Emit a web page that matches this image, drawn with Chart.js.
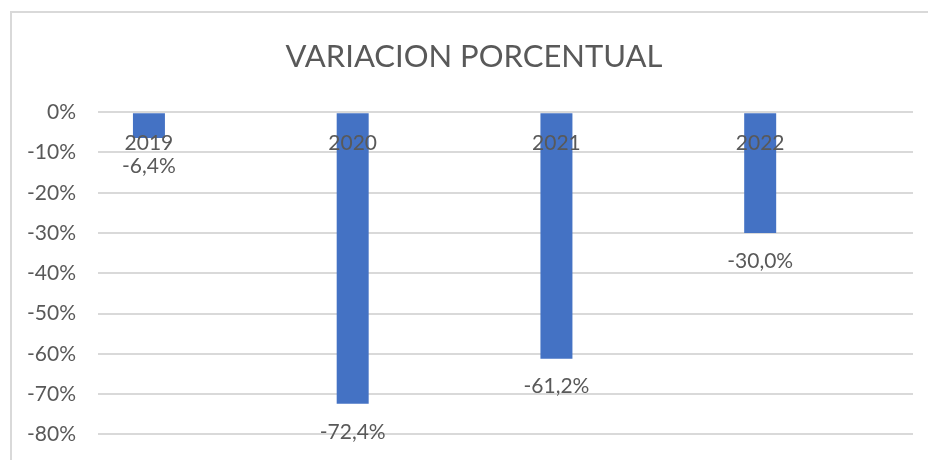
<!DOCTYPE html>
<html>
<head>
<meta charset="utf-8">
<script src="https://cdn.jsdelivr.net/npm/chart.js@4.4.1/dist/chart.umd.min.js"></script>
<style>
    html, body { margin: 0; padding: 0; background: #ffffff; }
    #wrap { position: relative; width: 928px; height: 460px; overflow: hidden; }
    #frame { position: absolute; left: 10px; top: 11px; width: 940px; height: 470px;
             border-left: 2px solid #d9d9d9; border-top: 2px solid #d9d9d9; }
    #chart { position: absolute; left: 0; top: 0; }
</style>
</head>
<body>
<div id="wrap">
    <div id="frame"></div>
    <!-- el lienzo es algo mas ancho que la ventana para centrar el titulo como en el original -->
    <canvas id="chart" width="948" height="469"></canvas>
</div>
<script>
    // datos
    var years = ['2019', '2020', '2021', '2022'];
    var variacion = [-6.4, -72.4, -61.2, -30.0];
    var yMin = -80;
    var yMax = 0;
    var yStep = 10;

    var textColor = '#595959';
    var fontFamily = 'Lato, "Open Sans", sans-serif';
    var labelSize = 21;

    Chart.defaults.font.family = fontFamily;
    Chart.defaults.color = textColor;

    function formatPct(v) {
        return v.toFixed(1).replace('.', ',') + '%';
    }

    // puntos {x: indice, y: valor} para poder desplazar las categorias
    var puntos = variacion.map(function(v, i) { return { x: i, y: v }; });

    // etiquetas de valor debajo de cada barra
    var valueLabels = {
        id: 'valueLabels',
        afterDatasetsDraw: function(chart) {
            var ctx = chart.ctx;
            var meta = chart.getDatasetMeta(0);
            ctx.save();
            ctx.font = labelSize + 'px ' + fontFamily;
            ctx.fillStyle = textColor;
            ctx.textAlign = 'center';
            ctx.textBaseline = 'middle';
            meta.data.forEach(function(bar, i) {
                ctx.fillText(formatPct(variacion[i]), bar.x, bar.y + 28);
            });
            ctx.restore();
        }
    };

    var ctx = document.getElementById('chart').getContext('2d');
    var myChart = new Chart(ctx, {
        type: 'bar',
        data: {
            datasets: [{
                label: 'Variacion porcentual',
                data: puntos,
                backgroundColor: '#4472c4',
                borderWidth: 0,
                categoryPercentage: 1,
                barPercentage: 0.157
            }]
        },
        plugins: [valueLabels],
        options: {
            responsive: false,
            animation: false,
            layout: {
                padding: { left: 0, right: 0, top: 0, bottom: 16 }
            },
            plugins: {
                legend: { display: false },
                tooltip: { enabled: false },
                title: {
                    display: true,
                    text: 'VARIACION PORCENTUAL',
                    color: textColor,
                    font: { size: 31, weight: 400, lineHeight: 1.2 },
                    padding: { top: 38, bottom: 37 }
                }
            },
            scales: {
                x: {
                    type: 'linear',
                    position: { y: 0 },
                    min: -0.25,
                    max: 3.75,
                    offset: false,
                    grid: { display: false },
                    border: { display: false },
                    afterBuildTicks: function(scale) {
                        scale.ticks = years.map(function(y, i) { return { value: i }; });
                    },
                    ticks: {
                        z: 1,
                        color: textColor,
                        font: { size: labelSize },
                        padding: 10,
                        maxRotation: 0,
                        autoSkip: false,
                        callback: function(v) { return years[v]; }
                    }
                },
                y: {
                    min: yMin,
                    max: yMax,
                    afterFit: function(scale) { scale.width = 98; },
                    grid: { color: '#d9d9d9', lineWidth: 2, drawTicks: false },
                    border: { display: false },
                    ticks: {
                        stepSize: yStep,
                        color: textColor,
                        font: { size: labelSize },
                        padding: 22,
                        callback: function(v) { return v + '%'; }
                    }
                },
                // eje vacio a la derecha: solo reserva el margen derecho del area de trazado
                margen: {
                    position: 'right',
                    afterFit: function(scale) { scale.width = 35; },
                    grid: { display: false },
                    border: { display: false },
                    ticks: { display: false }
                }
            }
        }
    });
</script>
</body>
</html>
